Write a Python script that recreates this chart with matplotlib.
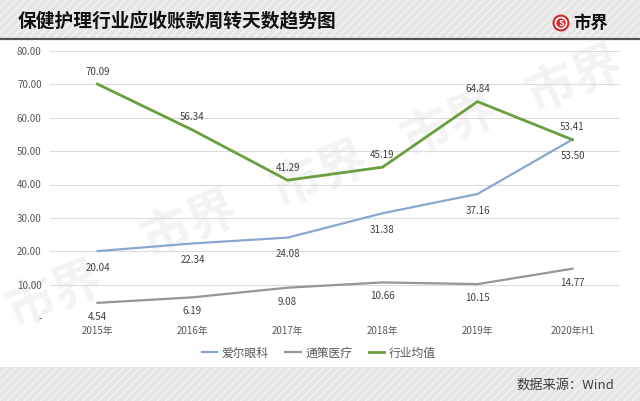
import matplotlib
matplotlib.use("Agg")
import matplotlib.pyplot as plt
from matplotlib.patches import Rectangle, Ellipse

plt.rcParams['font.family'] = ['Noto Sans CJK SC', 'DejaVu Sans']

# ---------------- DATA ----------------
years = ["2015年", "2016年", "2017年", "2018年", "2019年", "2020年H1"]
aier = [20.04, 22.34, 24.08, 31.38, 37.16, 53.50]
tongce = [4.54, 6.19, 9.08, 10.66, 10.15, 14.77]
industry = [70.09, 56.34, 41.29, 45.19, 64.84, 53.41]
yticks = [0, 10, 20, 30, 40, 50, 60, 70, 80]
ylabels = ["-"] + [f"{v:.2f}" for v in yticks[1:]]

BLUE = "#8aa6d3"
GRAY = "#969696"
GREEN = "#6b9e3e"

fig = plt.figure(figsize=(6.4, 4.01), dpi=100)

# ---------------- BANDS ----------------
W, H = 640, 401
def band(y0, y1):
    r = Rectangle((0, 1 - y1 / H), 1, (y1 - y0) / H, transform=fig.transFigure,
                  facecolor="#e6e6e6", edgecolor="#f3f3f3", hatch="////",
                  linewidth=0, zorder=0)
    fig.patches.append(r)

band(0, 38)
band(367, 401)
fig.add_artist(plt.Line2D([0, 1], [1 - 38.5 / H] * 2, color="#555555", lw=1.6))

fig.text(18 / W, 1 - 21 / H, "保健护理行业应收账款周转天数趋势图", fontsize=13.5,
         fontweight="bold", color="#111111", va="center", ha="left")

# logo
fig.add_artist(Ellipse((561 / W, 1 - 23 / H), 17 / W, 17 / H, transform=fig.transFigure,
                       facecolor="#d3282b", edgecolor="none"))
fig.add_artist(Ellipse((561 / W, 1 - 23 / H), 11 / W, 11 / H, transform=fig.transFigure,
                       facecolor="none", edgecolor="white", lw=1.2))
fig.text(561 / W, 1 - 23.5 / H, "S", fontsize=6.5, fontweight="bold", color="white",
         ha="center", va="center")
fig.text(573 / W, 1 - 23 / H, "市界", fontsize=12.5, fontweight="bold", color="#111111",
         ha="left", va="center")

fig.text(614 / W, 1 - 385 / H, "数据来源：Wind", fontsize=9.5, color="#3f3f3f",
         ha="right", va="center")

# watermark (behind the axes)
for wx, wy in [(55, 295), (190, 225), (320, 175), (450, 125), (575, 80)]:
    fig.text(wx / W, 1 - wy / H, "市界", fontsize=36, fontweight="bold",
             color="#f3f3f3", rotation=22, ha="center", va="center", zorder=0.5)

# ---------------- AXES ----------------
ax = fig.add_axes([50 / W, 1 - 318 / H, 570 / W, (318 - 51) / H])
ax.set_zorder(1)
ax.set_facecolor("none")
x = list(range(len(years)))

for y in yticks:
    ax.axhline(y, color="#dcdcdc", lw=0.8, zorder=1)

ax.plot(x, aier, color=BLUE, lw=1.6, label="爱尔眼科", zorder=3)
ax.plot(x, tongce, color=GRAY, lw=1.6, label="通策医疗", zorder=3)
ax.plot(x, industry, color=GREEN, lw=2.0, label="行业均值", zorder=3)

for i in x:
    ax.annotate(f"{aier[i]:.2f}", (i, aier[i]), xytext=(0, -12), textcoords="offset points",
                ha="center", va="center", fontsize=7, color="#404040")
    ax.annotate(f"{tongce[i]:.2f}", (i, tongce[i]), xytext=(0, -10), textcoords="offset points",
                ha="center", va="center", fontsize=7, color="#404040")
    ax.annotate(f"{industry[i]:.2f}", (i, industry[i]), xytext=(0, 9), textcoords="offset points",
                ha="center", va="center", fontsize=7, color="#404040")

ax.set_xlim(-0.5, 5.5)
ax.set_ylim(0, 80)
ax.set_yticks(yticks)
ax.set_yticklabels(ylabels)
ax.set_xticks(x)
ax.set_xticklabels(years)
ax.tick_params(length=0, labelsize=7, colors="#595959", pad=6)
for s in ax.spines.values():
    s.set_visible(False)

fig.legend(loc="center", bbox_to_anchor=(319 / W, 1 - 353 / H), ncol=3, frameon=False,
           fontsize=8.5, handlelength=1.3, handletextpad=0.4, columnspacing=1.4,
           labelcolor="#595959")

fig.savefig("out.png", dpi=100)
